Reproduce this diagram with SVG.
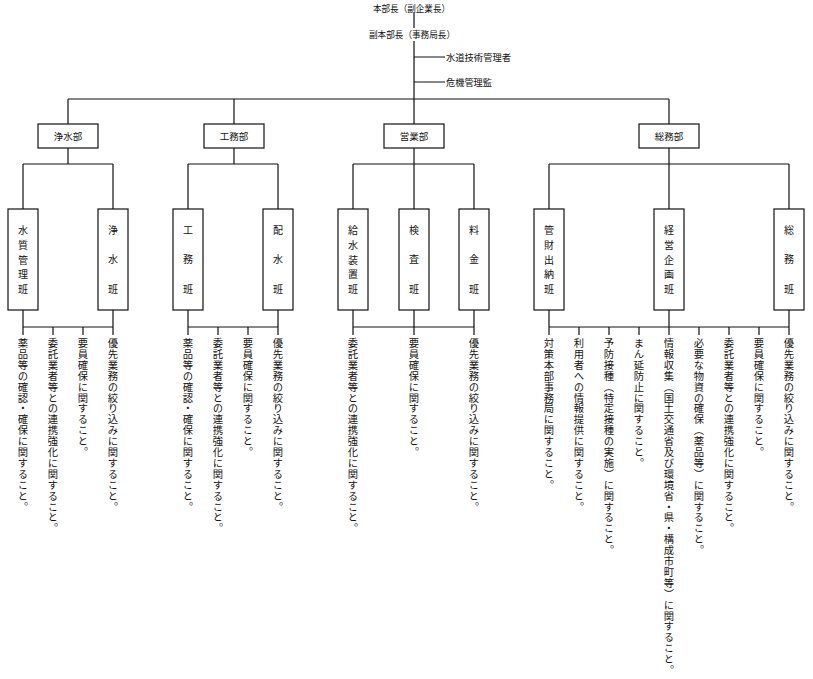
<svg xmlns="http://www.w3.org/2000/svg" width="813" height="679" viewBox="0 0 813 679">
<style>
text{font-family:"Noto Sans CJK JP","Noto Sans CJK SC",sans-serif;fill:#111;}
.t{font-size:9.5px;}
.d{font-size:9.5px;text-anchor:middle;dominant-baseline:central;}
.c{font-size:10px;text-anchor:middle;dominant-baseline:central;}
.i{font-size:10.3px;writing-mode:vertical-rl;letter-spacing:0.6px;}
.box{fill:#fff;stroke:#111;stroke-width:1.2;}
.ln{fill:none;stroke:#111;stroke-width:1.2;}
</style>
<rect width="813" height="679" fill="#fff"/>
<g id="connectors">
<path class="ln" d="M414 13V28 M414 41V124 M414 57H445 M414 82H445 M68 99H669 M68 99V124 M234 99V124 M669 99V124
M68 148V164 M23 164H113 M23 164V209 M113 164V209
M234 148V164 M188 164H278 M188 164V209 M278 164V209
M414 148V209 M353 164H474 M353 164V209 M474 164V209
M669 148V209 M549 164H789 M549 164V209 M789 164V209
M23 310V335 M113 310V335 M23 327H113 M53 327V335 M83 327V335
M188 310V335 M278 310V335 M188 327H278 M218 327V335 M248 327V335
M353 310V335 M414 310V335 M474 310V335 M353 327H474
M549 310V335 M669 310V335 M789 310V335 M549 327H789 M579 327V335 M609 327V335 M639 327V335 M699 327V335 M729 327V335 M759 327V335"/>
</g>
<g id="top">
<text class="t" x="373" y="11.5" textLength="77" lengthAdjust="spacingAndGlyphs">本部長（副企業長）</text>
<text class="t" x="369" y="37.5" textLength="86" lengthAdjust="spacingAndGlyphs">副本部長（事務局長）</text>
<text class="t" x="446" y="60.5" textLength="65" lengthAdjust="spacingAndGlyphs">水道技術管理者</text>
<text class="t" x="446" y="85.5" textLength="46" lengthAdjust="spacingAndGlyphs">危機管理監</text>
</g>
<g id="dept-josui"><rect class="box" x="38" y="124" width="60" height="24"/><text class="d" x="68" y="136">浄水部</text></g>
<g id="dept-koumu"><rect class="box" x="204" y="124" width="60" height="24"/><text class="d" x="234" y="136">工務部</text></g>
<g id="dept-eigyo"><rect class="box" x="384" y="124" width="60" height="24"/><text class="d" x="414" y="136">営業部</text></g>
<g id="dept-soumu"><rect class="box" x="639" y="124" width="60" height="24"/><text class="d" x="669" y="136">総務部</text></g>

<g id="team-suishitsu"><rect class="box" x="8" y="209" width="30" height="101"/>
<text class="c" x="23" y="229">水</text><text class="c" x="23" y="244">質</text><text class="c" x="23" y="259">管</text><text class="c" x="23" y="273">理</text><text class="c" x="23" y="288">班</text></g>
<g id="team-josui"><rect class="box" x="98" y="209" width="30" height="101"/>
<text class="c" x="113" y="229">浄</text><text class="c" x="113" y="258.5">水</text><text class="c" x="113" y="288">班</text></g>
<g id="team-koumu"><rect class="box" x="173" y="209" width="30" height="101"/>
<text class="c" x="188" y="229">工</text><text class="c" x="188" y="258.5">務</text><text class="c" x="188" y="288">班</text></g>
<g id="team-haisui"><rect class="box" x="263" y="209" width="30" height="101"/>
<text class="c" x="278" y="229">配</text><text class="c" x="278" y="258.5">水</text><text class="c" x="278" y="288">班</text></g>
<g id="team-kyusui"><rect class="box" x="338" y="209" width="30" height="101"/>
<text class="c" x="353" y="229">給</text><text class="c" x="353" y="244">水</text><text class="c" x="353" y="259">装</text><text class="c" x="353" y="273">置</text><text class="c" x="353" y="288">班</text></g>
<g id="team-kensa"><rect class="box" x="399" y="209" width="30" height="101"/>
<text class="c" x="414" y="229">検</text><text class="c" x="414" y="258.5">査</text><text class="c" x="414" y="288">班</text></g>
<g id="team-ryokin"><rect class="box" x="459" y="209" width="30" height="101"/>
<text class="c" x="474" y="229">料</text><text class="c" x="474" y="258.5">金</text><text class="c" x="474" y="288">班</text></g>
<g id="team-kanzai"><rect class="box" x="534" y="209" width="30" height="101"/>
<text class="c" x="549" y="229">管</text><text class="c" x="549" y="244">財</text><text class="c" x="549" y="259">出</text><text class="c" x="549" y="273">納</text><text class="c" x="549" y="288">班</text></g>
<g id="team-keiei"><rect class="box" x="654" y="209" width="30" height="101"/>
<text class="c" x="669" y="229">経</text><text class="c" x="669" y="244">営</text><text class="c" x="669" y="259">企</text><text class="c" x="669" y="273">画</text><text class="c" x="669" y="288">班</text></g>
<g id="team-soumu"><rect class="box" x="774" y="209" width="30" height="101"/>
<text class="c" x="789" y="229">総</text><text class="c" x="789" y="258.5">務</text><text class="c" x="789" y="288">班</text></g>

<g id="items">
<text class="i" x="23" y="338">薬品等の確認・確保に関すること。</text>
<text class="i" x="53" y="338">委託業者等との連携強化に関すること。</text>
<text class="i" x="83" y="338">要員確保に関すること。</text>
<text class="i" x="113" y="338">優先業務の絞り込みに関すること。</text>
<text class="i" x="188" y="338">薬品等の確認・確保に関すること。</text>
<text class="i" x="218" y="338">委託業者等との連携強化に関すること。</text>
<text class="i" x="248" y="338">要員確保に関すること。</text>
<text class="i" x="278" y="338">優先業務の絞り込みに関すること。</text>
<text class="i" x="353" y="338">委託業者等との連携強化に関すること。</text>
<text class="i" x="414" y="338">要員確保に関すること。</text>
<text class="i" x="474" y="338">優先業務の絞り込みに関すること。</text>
<text class="i" x="549" y="338">対策本部事務局に関すること。</text>
<text class="i" x="579" y="338">利用者への情報提供に関すること。</text>
<text class="i" x="609" y="338">予防接種（特定接種の実施）に関すること。</text>
<text class="i" x="639" y="338">まん延防止に関すること。</text>
<text class="i" x="669" y="338">情報収集（国土交通省及び環境省・県・構成市町等）に関すること。</text>
<text class="i" x="699" y="338">必要な物資の確保（薬品等）に関すること。</text>
<text class="i" x="729" y="338">委託業者等との連携強化に関すること。</text>
<text class="i" x="759" y="338">要員確保に関すること。</text>
<text class="i" x="789" y="338">優先業務の絞り込みに関すること。</text>
</g>
</svg>
